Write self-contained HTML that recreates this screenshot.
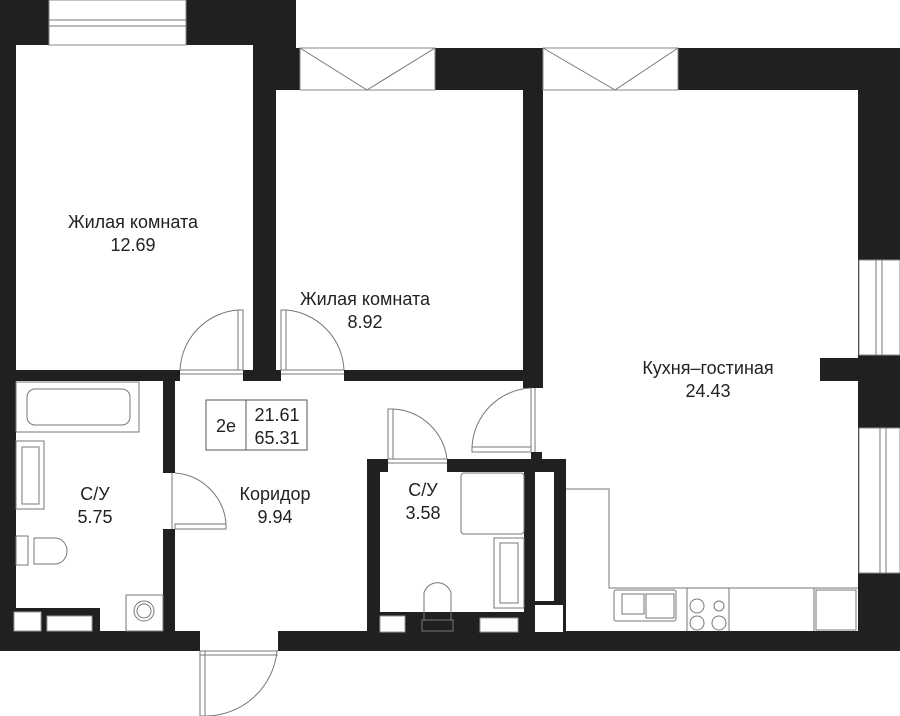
<!DOCTYPE html>
<html><head><meta charset="utf-8"><style>
html,body{margin:0;padding:0;background:#fff;}
svg{display:block;}
text{font-family:"Liberation Sans",sans-serif;font-size:18px;fill:#222;text-anchor:middle;}
</style></head><body>
<svg width="900" height="716" viewBox="0 0 900 716" xmlns="http://www.w3.org/2000/svg">
<g fill="#202020">
<rect x="0" y="0" width="296" height="45"/>
<rect x="253" y="0" width="43" height="90"/>
<rect x="296" y="48" width="604" height="42"/>
<rect x="0" y="0" width="16" height="651"/>
<rect x="253" y="45" width="23" height="336"/>
<rect x="523" y="90" width="20" height="298"/>
<rect x="858" y="48" width="42" height="603"/>
<rect x="0" y="370" width="180" height="11"/>
<rect x="243" y="370" width="38" height="11"/>
<rect x="344" y="370" width="196" height="11"/>
<rect x="163" y="381" width="12" height="92"/>
<rect x="163" y="529" width="12" height="122"/>
<rect x="0" y="631" width="200" height="20"/>
<rect x="278" y="631" width="622" height="20"/>
<rect x="0" y="608" width="100" height="24"/>
<rect x="367" y="459" width="13" height="172"/>
<rect x="367" y="459" width="21" height="13"/>
<rect x="447" y="459" width="119" height="13"/>
<rect x="524" y="459" width="42" height="172"/>
<rect x="531" y="452" width="11" height="8"/>
<rect x="820" y="358" width="40" height="23"/>
<rect x="380" y="612" width="144" height="20"/>
</g>
<g fill="#fff" stroke="#999" stroke-width="1">
<rect x="535" y="472" width="19" height="129" stroke="none"/>
<rect x="535" y="605" width="28" height="27" stroke="none"/>
<rect x="49" y="0" width="137" height="45" stroke="#888"/>
<rect x="300" y="48" width="135" height="42" stroke="#888"/>
<rect x="543" y="48" width="135" height="42" stroke="#888"/>
<rect x="859" y="260" width="41" height="95" stroke="#888"/>
<rect x="859" y="428" width="41" height="145" stroke="#888"/>
<rect x="14" y="612" width="27" height="19"/>
<rect x="47" y="616" width="45" height="15"/>
<rect x="380" y="616" width="25" height="16"/>
<rect x="480" y="618" width="38" height="14"/>
</g>
<g fill="none" stroke="#777" stroke-width="1">
<line x1="49" y1="20" x2="186" y2="20"/><line x1="49" y1="26" x2="186" y2="26"/>
<line x1="300" y1="48" x2="367" y2="90"/><line x1="435" y1="48" x2="367" y2="90"/>
<line x1="543" y1="48" x2="615" y2="90"/><line x1="678" y1="48" x2="615" y2="90"/>
<line x1="876" y1="260" x2="876" y2="355"/><line x1="882" y1="260" x2="882" y2="355"/>
<line x1="880" y1="428" x2="880" y2="573"/><line x1="886" y1="428" x2="886" y2="573"/>
<rect x="238" y="310" width="5" height="60"/><path d="M238 310 A63 63 0 0 0 180 370"/>
<line x1="180" y1="370" x2="243" y2="370"/><line x1="180" y1="374" x2="243" y2="374"/>
<rect x="281" y="310" width="5" height="60"/><path d="M286 310 A63 63 0 0 1 344 370"/>
<line x1="281" y1="370" x2="344" y2="370"/><line x1="281" y1="374" x2="344" y2="374"/>
<rect x="175" y="524" width="51" height="5"/><path d="M175 473 A55 55 0 0 1 226 524"/>
<line x1="172" y1="473" x2="172" y2="529"/>
<rect x="388" y="409" width="5" height="50"/><path d="M393 409 A57 57 0 0 1 447 459"/>
<line x1="388" y1="459" x2="447" y2="459"/><line x1="388" y1="463" x2="447" y2="463"/>
<rect x="472" y="447" width="59" height="5"/><path d="M472 447 A62 62 0 0 1 531 388"/>
<line x1="531" y1="388" x2="531" y2="452"/><line x1="535" y1="388" x2="535" y2="452"/>
<rect x="200" y="651" width="5" height="65"/><path d="M205 716 A72 72 0 0 0 277 651"/>
<line x1="200" y1="651" x2="278" y2="651"/><line x1="200" y1="655" x2="278" y2="655"/>
<rect x="206" y="400" width="101" height="50" stroke="#555"/>
<line x1="246" y1="400" x2="246" y2="450" stroke="#555"/>
<rect x="16" y="382" width="123" height="50"/>
<rect x="27" y="389" width="103" height="36" rx="8"/>
<rect x="16" y="441" width="28" height="68"/>
<rect x="22" y="447" width="17" height="57"/>
<rect x="16" y="536" width="12" height="29"/>
<path d="M34 538 H55 A12 13 0 0 1 55 564 H34 Z"/>
<rect x="126" y="595" width="37" height="36"/>
<circle cx="144" cy="611" r="10"/><circle cx="144" cy="611" r="7"/>
<rect x="461" y="473" width="63" height="61" rx="3"/>
<rect x="494" y="538" width="30" height="70"/>
<rect x="500" y="543" width="18" height="60"/>
<path d="M424 620 V593 A14 14 0 0 1 451 593 V620 Z"/>
<rect x="422" y="620" width="31" height="11"/>
<path d="M566 489 H609 V588 H858"/>
<rect x="614" y="590" width="62" height="31" rx="2"/>
<rect x="622" y="594" width="22" height="20"/><rect x="646" y="594" width="28" height="24"/>
<line x1="687" y1="588" x2="687" y2="631"/>
<line x1="729" y1="588" x2="729" y2="631"/>
<circle cx="697" cy="606" r="7"/><circle cx="719" cy="606" r="5"/>
<circle cx="697" cy="623" r="7"/><circle cx="719" cy="623" r="7"/>
<line x1="814" y1="588" x2="814" y2="631"/>
<rect x="816" y="590" width="40" height="40"/>
</g>
<text x="133" y="228">Жилая комната</text><text x="133" y="251">12.69</text>
<text x="365" y="305">Жилая комната</text><text x="365" y="328">8.92</text>
<text x="708" y="374">Кухня–гостиная</text><text x="708" y="397">24.43</text>
<text x="95" y="500">С/У</text><text x="95" y="523">5.75</text>
<text x="275" y="500">Коридор</text><text x="275" y="523">9.94</text>
<text x="423" y="496">С/У</text><text x="423" y="519">3.58</text>
<text x="226" y="432">2е</text>
<text x="277" y="421">21.61</text><text x="277" y="444">65.31</text>
</svg>
</body></html>
